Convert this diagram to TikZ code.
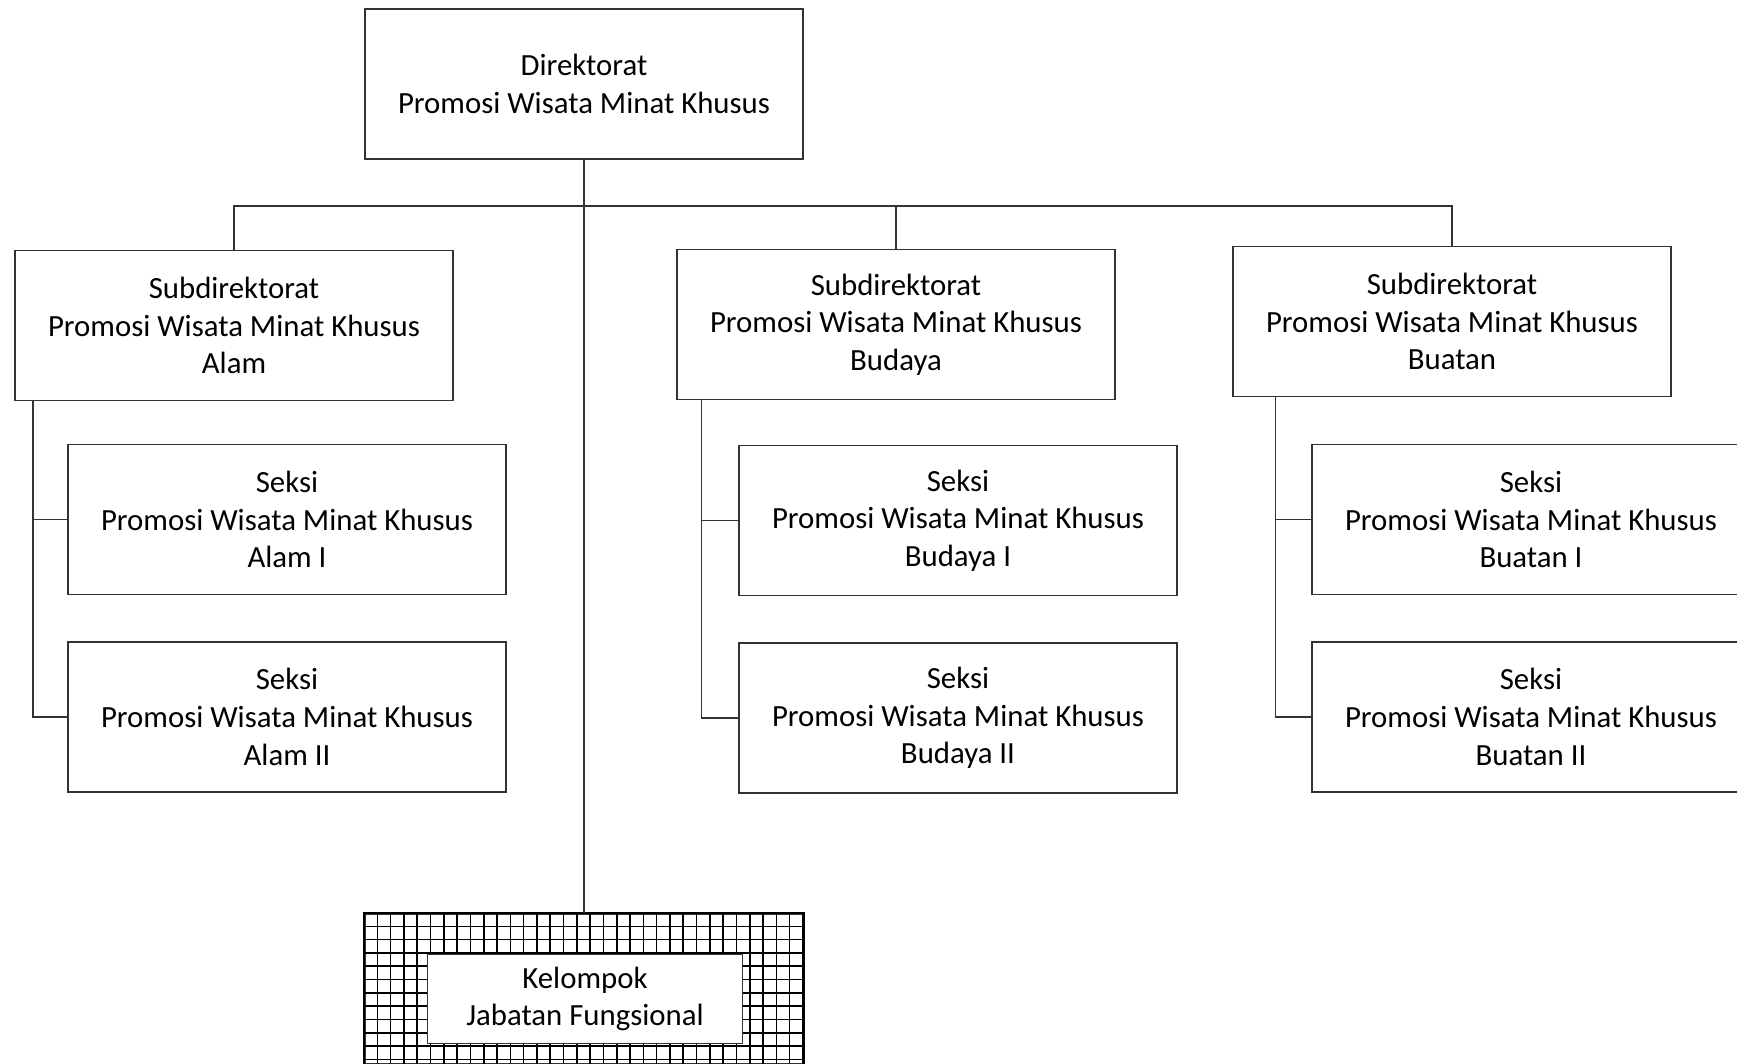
\documentclass[tikz,border=0pt]{standalone}
\usepackage{fontspec}
\setmainfont{Carlito}
\usetikzlibrary{positioning}

\begin{document}
\begin{tikzpicture}[
  x=0.5pt, y=-0.5pt,
  font=\fontsize{15.4}{18.8}\selectfont,
  node distance=23pt,
  unit/.style={
    draw=black!80, line width=0.7pt, fill=white, align=center,
    minimum width=219pt, minimum height=75pt, inner sep=0pt
  },
  group/.style={unit, line width=1pt},
  inner/.style={unit, minimum width=157.5pt, minimum height=44.5pt},
  link/.style={draw=black!80, line width=0.7pt},
]
\useasboundingbox (0,0) rectangle (1737,1064);
\clip (0,0) rectangle (1737,1064);

\node[unit] (dir) at (584,84) {Direktorat\\Promosi Wisata Minat Khusus};

\node[unit] (subalam) at (234,325.5) {Subdirektorat\\Promosi Wisata Minat Khusus\\Alam};
\node[unit] (subbudaya) at (896,324.5) {Subdirektorat\\Promosi Wisata Minat Khusus\\Budaya};
\node[unit] (subbuatan) at (1452,321.5) {Subdirektorat\\Promosi Wisata Minat Khusus\\Buatan};

\node[unit] (alam1) at (287,519.5) {Seksi\\Promosi Wisata Minat Khusus\\Alam I};
\node[unit, below=of alam1] (alam2) {Seksi\\Promosi Wisata Minat Khusus\\Alam II};

\node[unit] (budaya1) at (958,520.5) {Seksi\\Promosi Wisata Minat Khusus\\Budaya I};
\node[unit, below=of budaya1] (budaya2) {Seksi\\Promosi Wisata Minat Khusus\\Budaya II};

\node[unit] (buatan1) at (1531,519.5) {Seksi\\Promosi Wisata Minat Khusus\\Buatan I};
\node[unit, below=of buatan1] (buatan2) {Seksi\\Promosi Wisata Minat Khusus\\Buatan II};

\node[group] (grp) at (584,989) {};
\begin{scope}
  \clip (grp.south west) rectangle (grp.north east);
  \draw[black, line width=0.8pt, shift={(grp.north west)}, step=6.65pt]
    (grp.south west) grid (grp.north east);
\end{scope}
\draw[black, line width=1.1pt] (grp.south west) rectangle (grp.north east);
\node[inner] (fung) at (585,999) {Kelompok\\Jabatan Fungsional};

\coordinate (bus) at (584,206);

\draw[link] (dir.south) -- (grp.north);
\draw[link] (subalam.north) |- (bus) -| (subbuatan.north);
\draw[link] (subbudaya.north) -- (subbudaya.north |- bus);

\draw[link] ([xshift=9.3pt]subalam.south west) |- (alam1.west);
\draw[link] ([xshift=9.3pt]subalam.south west) |- (alam2.west);
\draw[link] ([xshift=12.7pt]subbudaya.south west) |- (budaya1.west);
\draw[link] ([xshift=12.7pt]subbudaya.south west) |- (budaya2.west);
\draw[link] ([xshift=21.5pt]subbuatan.south west) |- (buatan1.west);
\draw[link] ([xshift=21.5pt]subbuatan.south west) |- (buatan2.west);

\end{tikzpicture}
\end{document}
